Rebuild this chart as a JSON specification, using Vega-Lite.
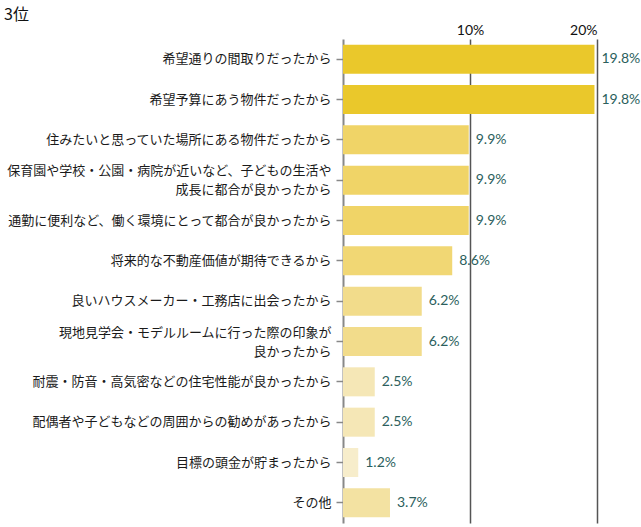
{
  "$schema": "https://vega.github.io/schema/vega-lite/v6.json",
  "autosize": {"type": "none"},
  "padding": {"left": 343, "top": 39, "right": 44, "bottom": 4},
  "width": 254,
  "height": 484,
  "background": "white",
  "title": {
    "text": "3位",
    "anchor": "start",
    "frame": "group",
    "dx": -339,
    "dy": 4,
    "fontSize": 16,
    "fontWeight": "normal",
    "font": "Noto Sans CJK JP",
    "color": "#111111"
  },
  "config": {
    "view": {"stroke": null},
    "axis": {"labelFont": "Noto Sans CJK JP"}
  },
  "data": {
    "values": [
      {"reason": "希望通りの間取りだったから", "value": 19.8},
      {"reason": "希望予算にあう物件だったから", "value": 19.8},
      {"reason": "住みたいと思っていた場所にある物件だったから", "value": 9.9},
      {"reason": "保育園や学校・公園・病院が近いなど、子どもの生活や|成長に都合が良かったから", "value": 9.9},
      {"reason": "通勤に便利など、働く環境にとって都合が良かったから", "value": 9.9},
      {"reason": "将来的な不動産価値が期待できるから", "value": 8.6},
      {"reason": "良いハウスメーカー・工務店に出会ったから", "value": 6.2},
      {"reason": "現地見学会・モデルルームに行った際の印象が|良かったから", "value": 6.2},
      {"reason": "耐震・防音・高気密などの住宅性能が良かったから", "value": 2.5},
      {"reason": "配偶者や子どもなどの周囲からの勧めがあったから", "value": 2.5},
      {"reason": "目標の頭金が貯まったから", "value": 1.2},
      {"reason": "その他", "value": 3.7}
    ]
  },
  "transform": [
    {"calculate": "format(datum.value, '.1f') + '%'", "as": "label"}
  ],
  "encoding": {
    "y": {
      "field": "reason",
      "type": "nominal",
      "sort": null,
      "scale": {"paddingInner": 0.28, "paddingOuter": 0.14},
      "axis": {
        "title": null,
        "labelExpr": "split(datum.label, '|')",
        "labelFontSize": 13,
        "labelColor": "#1a1a1a",
        "labelLineHeight": 19,
        "labelLimit": 400,
        "labelPadding": 5,
        "labelOffset": {"condition": {"test": "indexof(datum.value, '|') >= 0", "value": -9}, "value": 0},
        "tickSize": 7,
        "tickColor": "#888888",
        "tickWidth": 1.5,
        "domainColor": "#888888",
        "domainWidth": 2,
        "grid": false
      }
    },
    "x": {
      "field": "value",
      "type": "quantitative",
      "scale": {"domain": [0, 20], "nice": false},
      "axis": {
        "orient": "top",
        "title": null,
        "values": [10, 20],
        "labelExpr": "datum.value + '%'",
        "labelFont": "Lato",
        "labelFontSize": 14,
        "labelColor": "#111111",
        "labelPadding": 2,
        "ticks": false,
        "domain": false,
        "grid": true,
        "gridColor": "#555555",
        "gridWidth": 1.5
      }
    }
  },
  "layer": [
    {
      "mark": {"type": "bar", "cornerRadius": 0},
      "encoding": {
        "color": {
          "field": "value",
          "type": "quantitative",
          "legend": null,
          "scale": {
            "domain": [1.2, 3.7, 9.9, 19.8],
            "range": ["#F7EDCB", "#F3E2A2", "#F0D467", "#EAC82B"]
          }
        }
      }
    },
    {
      "mark": {"type": "text", "align": "left", "baseline": "middle", "dx": 7, "font": "Lato", "fontSize": 14, "color": "#2C5F5D"},
      "encoding": {
        "text": {"field": "label", "type": "nominal"}
      }
    }
  ]
}
